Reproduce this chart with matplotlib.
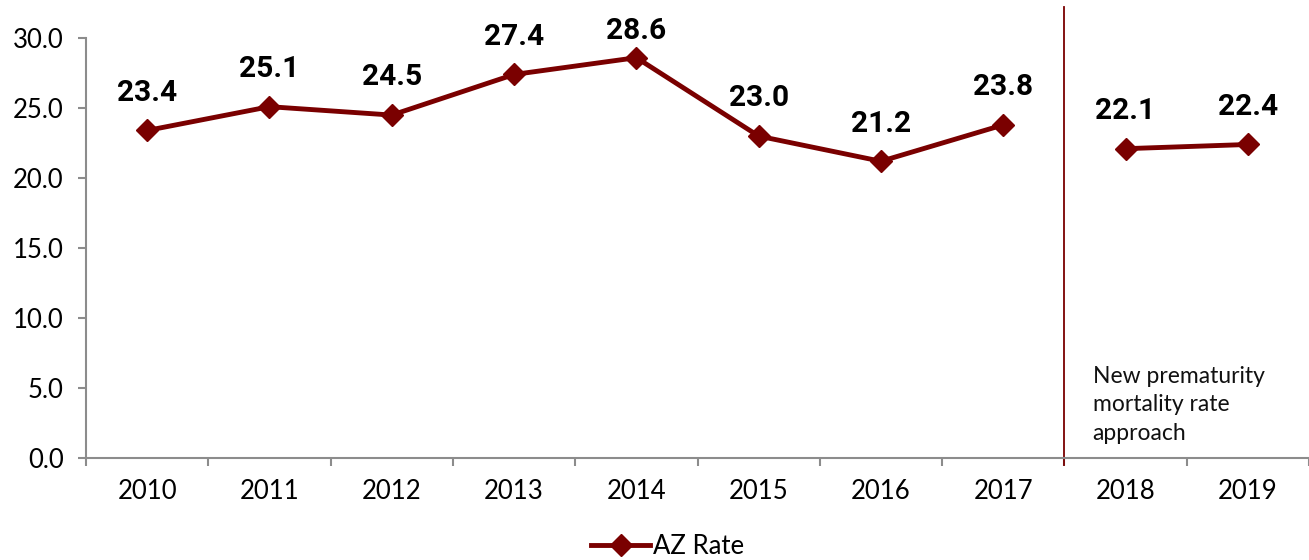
import numpy as np
import matplotlib
matplotlib.use("Agg")
import matplotlib.pyplot as plt
from matplotlib.ticker import FixedLocator, NullFormatter, FixedFormatter

# AZ rate by year; the series restarts in 2018 under the new approach
years = ["2010", "2011", "2012", "2013", "2014", "2015", "2016", "2017", "2018", "2019"]
old_rate = [23.4, 25.1, 24.5, 27.4, 28.6, 23.0, 21.2, 23.8]
new_rate = [22.1, 22.4]
note = "New prematurity\nmortality rate\napproach"

line_color = "#7a0000"
axis_color = "#8c8c8c"
tick_font = "Lato"

fig = plt.figure(figsize=(13.09, 5.6), dpi=100)
ax = fig.add_axes([0.0657, 0.182, 0.9343, 0.750])

x_old = np.arange(len(old_rate))
x_new = np.arange(len(old_rate), len(old_rate) + len(new_rate))

ax.plot(x_old, old_rate, color=line_color, lw=3.5, marker="D", ms=11, label="AZ Rate")
ax.plot(x_new, new_rate, color=line_color, lw=3.5, marker="D", ms=11)

# value labels above each point (pulled down near the top edge so they stay in frame)
for xs, ys in ((x_old, old_rate), (x_new, new_rate)):
    for x, y in zip(xs, ys):
        off = 9 if y > 28 else 17
        ax.annotate(f"{y:.1f}", (x, y), xytext=(0, off), textcoords="offset points",
                    ha="center", va="bottom", fontsize=21.5, fontweight="bold",
                    family="Roboto", color="black")

# divider between the two methods
ax.plot([7.5, 7.5], [-0.5, 32.2], color=line_color, lw=1.3, clip_on=False)
ax.text(7.73, 6.6, note, ha="left", va="top", fontsize=16.5, family=tick_font,
        linespacing=1.45, color="#111111")

ax.set_xlim(-0.5, len(years) - 0.5)
ax.set_ylim(0, 30)
ax.set_yticks(np.arange(0, 31, 5))
ax.set_yticklabels([f"{v:.1f}" for v in np.arange(0, 31, 5)], fontsize=18.5, family=tick_font)

# tick marks sit between categories, labels under each category
ax.xaxis.set_major_locator(FixedLocator(np.arange(-0.5, len(years), 1.0)))
ax.xaxis.set_major_formatter(NullFormatter())
ax.xaxis.set_minor_locator(FixedLocator(np.arange(len(years))))
ax.xaxis.set_minor_formatter(FixedFormatter(years))
ax.tick_params(axis="x", which="major", length=6, width=1.5, color=axis_color)
ax.tick_params(axis="x", which="minor", length=0, pad=15, labelsize=18.5)
for lbl in ax.get_xticklabels(minor=True):
    lbl.set_family(tick_font)
ax.tick_params(axis="y", length=6, width=1.5, color=axis_color, pad=10)

for side in ("top", "right"):
    ax.spines[side].set_visible(False)
for side in ("left", "bottom"):
    ax.spines[side].set_color(axis_color)
    ax.spines[side].set_linewidth(1.5)

leg = fig.legend(loc="center", bbox_to_anchor=(0.51, 0.025), frameon=False,
                 prop={"family": tick_font, "size": 18.5}, handlelength=2.3,
                 handletextpad=0.1)

fig.savefig("out.png", dpi=100)
